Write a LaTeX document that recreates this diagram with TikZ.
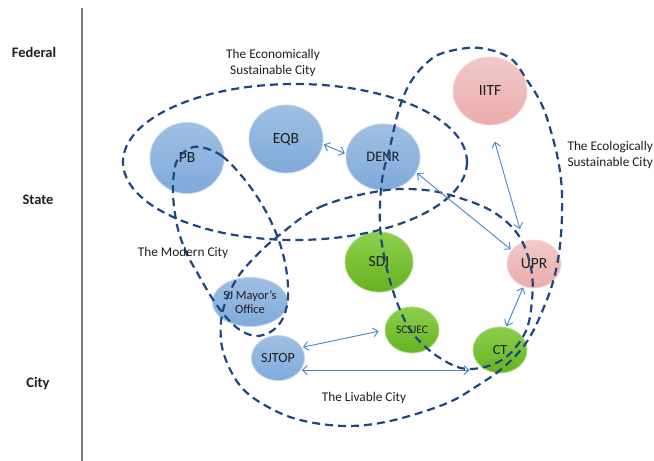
\documentclass[tikz,border=0pt]{standalone}
\usepackage{fontspec}
\setmainfont{Carlito}
\usetikzlibrary{arrows.meta,shapes.geometric,positioning}
\definecolor{zoneblue}{RGB}{30,70,128}
\definecolor{linkblue}{RGB}{72,132,200}
\definecolor{govblue}{RGB}{128,170,218}
\definecolor{ecopink}{RGB}{234,172,172}
\definecolor{livgreen}{RGB}{112,194,34}
\definecolor{axisgray}{RGB}{120,120,120}
\definecolor{ink}{RGB}{30,30,30}

\begin{document}
\begin{tikzpicture}[x=1pt, y=-1pt,
  org/.style={ellipse, inner sep=0pt, align=center, line width=0.8pt, text=ink,
              font=\fontsize{15.5}{16}\selectfont},
  bigorg/.style={org, minimum width=74pt, minimum height=68pt},
  smallorg/.style={org, minimum width=54pt, minimum height=47pt,
                   font=\fontsize{14}{15}\selectfont},
  gov/.style={draw=govblue!50!white, top color=govblue!75!white, bottom color=govblue},
  eco/.style={draw=ecopink!50!white, top color=ecopink!65!white, bottom color=ecopink},
  liv/.style={draw=livgreen!60!white, top color=livgreen!80!white, bottom color=livgreen!92!black},
  level/.style={font=\fontsize{14.5}{16}\selectfont\bfseries, text=ink},
  zonelbl/.style={font=\fontsize{13.3}{16}\selectfont, align=center, text=ink},
  zone/.style={zoneblue, line width=2.2pt, dash pattern=on 8pt off 5pt},
  link/.style={{Straight Barb[length=5pt,width=9pt]}-{Straight Barb[length=5pt,width=9pt]},
               linkblue, line width=0.9pt, shorten <=1pt, shorten >=1pt}]

\useasboundingbox (0,0) rectangle (654,461);

% ---------- levels ----------
\node[level] (federal) at (34,52) {Federal};
\node[level] (state) at (38,200) {State};
\node[level] (city) at (38,384) {City};
\draw[axisgray, line width=1.4pt] (82,8) -- (82,461);

% ---------- agencies ----------
\node[bigorg, gov, minimum height=71pt] (pb) at (187,158) {PB};
\node[bigorg, gov] (eqb) at (286,139) {EQB};
\node[bigorg, gov, minimum height=66pt, font=\fontsize{14.5}{15}\selectfont] (denr) at (383,157) {DENR};
\node[bigorg, eco] (iitf) at (490,91) {IITF};
\node[bigorg, liv, minimum width=68pt, minimum height=60pt] (sdi) at (379,262) {SDI};
\node[smallorg, eco, minimum height=48pt, font=\fontsize{15.5}{16}\selectfont] (upr) at (534,264) {UPR};
\node[smallorg, gov, minimum width=53pt, minimum height=49pt,
      font=\fontsize{12.5}{14}\selectfont] (mayor) at (250,302) {SJ Mayor's\\Office};
\node[smallorg, liv, minimum height=46pt, font=\fontsize{11.5}{12}\selectfont] (scsjec) at (412,330) {SCSJEC};
\node[smallorg, gov, minimum width=53pt, minimum height=45pt] (sjtop) at (278,358) {SJTOP};
\node[smallorg, liv, minimum height=46pt] (ct) at (500,350) {CT};

% ---------- zones ----------
\draw[zone] (295,162) ellipse [x radius=172, y radius=78];
\draw[zone] plot[smooth cycle, tension=0.6] coordinates {
  (200,147) (222,156) (245,180) (264,208) (278,238) (286,268) (288,297)
  (283,318) (272,331) (256,336) (240,330) (226,317) (212,298) (198,274)
  (186,252) (177,225) (173,192) (176,163) (187,150)};
\draw[zone] plot[smooth cycle, tension=0.6] coordinates {
  (277,237) (320,207) (380,191) (425,190) (463,199) (495,213) (519,236)
  (531,268) (532,300) (525,333) (502,360) (468,369) (440,358) (414,335)
  (398,305) (386,265) (380,225) (382,180) (390,147) (398,113) (410,83)
  (430,60) (450,51) (480,48) (510,58) (527,80) (542,105) (552,135)
  (559,165) (562,195) (561,235) (556,270) (546,302) (528,340) (505,366)
  (477,386) (445,404) (390,421) (345,426) (300,420) (268,407) (243,389)
  (228,365) (221,340) (223,310) (236,280) (254,258)};

\node[zonelbl] (econlbl) at (273,63) {The Economically\\Sustainable City};
\node[zonelbl, align=left, anchor=west] (ecollbl) at (564,155) {The Ecologically\\Sustainable City};
\node[zonelbl] (modernlbl) at (183,253) {The Modern City};
\node[zonelbl] (livablelbl) at (364,398) {The Livable City};

% ---------- links ----------
\draw[link] (eqb.-8) -- (denr.175);
\draw[link] (denr.-25) -- (upr.148);
\draw[link, shorten <=17pt, shorten >=13pt] (iitf.-90) -- (upr.115);
\draw[link] (upr.-115) -- (ct.75);
\draw[link, shorten >=6pt] (sjtop.24) -- (scsjec.west);
\draw[link, shorten >=3pt] (sjtop.-28) -- (sjtop.-28 -| ct.west);
\end{tikzpicture}
\end{document}
